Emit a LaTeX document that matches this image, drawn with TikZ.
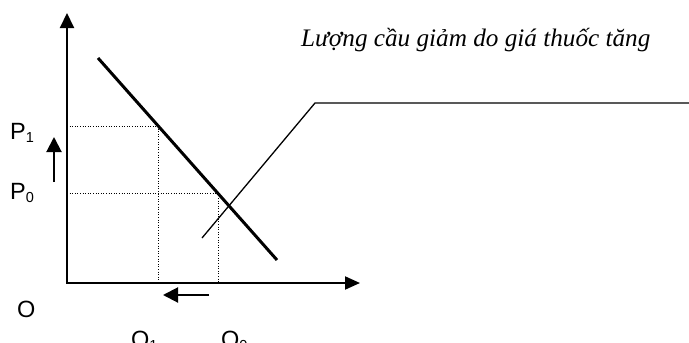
\documentclass[tikz,border=0pt]{standalone}
\usepackage{fontspec}
\setmainfont{Liberation Serif}
\newfontfamily\labelfont{Liberation Sans}
\usetikzlibrary{arrows.meta, calc}
\newcommand{\lowidx}[1]{{\fontsize{14.5}{14.5}\selectfont\raisebox{-3pt}{#1}}}

\begin{document}
\begin{tikzpicture}[x=1pt, y=-1pt,
    axis/.style={line width=2pt, {Triangle[length=15pt, width=14pt]}-{Triangle[length=15pt, width=13pt]}},
    shiftarrow/.style={line width=2pt, -{Triangle[length=15pt, width=15pt]}},
    guide/.style={line width=1pt, dash pattern=on 1pt off 1.6pt},
    lbl/.style={font=\labelfont\fontsize{23.5}{23.5}\selectfont, inner sep=0pt, anchor=base west}]
    \useasboundingbox (0,0) rectangle (689,343);

    % Axes
    \coordinate (O) at (67,283);
    \coordinate (ytop) at (67,13);
    \coordinate (xend) at (360,283);
    \draw[axis] (ytop) -- (O) -- (xend);

    % Demand curve
    \coordinate (D1) at (98,58);
    \coordinate (D2) at (277,260);
    \draw[line width=3pt] (D1) -- (D2);

    % Kinked line
    \coordinate (S1) at (202,238);
    \coordinate (S2) at (315,103);
    \coordinate (S3) at (689,103);
    \draw[line width=1.3pt] (S1) -- (S2) -- (S3);

    % Price levels and quantities
    \coordinate (P1) at (67,126);
    \coordinate (P0) at (67,193);
    \coordinate (E1) at (158,126);
    \coordinate (E0) at (218,193);
    \draw[guide] (P1) -- (E1) -- (E1 |- O);
    \draw[guide] (P0) -- (E0) -- (E0 |- O);

    % Shift arrows
    \coordinate (up0) at (54,182);
    \coordinate (up1) at (54,137);
    \draw[shiftarrow] (up0) -- (up1);
    \coordinate (left0) at (209,295);
    \coordinate (left1) at (163,295);
    \draw[shiftarrow] (left0) -- (left1);

    % Labels
    \node[lbl] (p1) at (10,139.5) {P\lowidx{1}};
    \node[lbl] (p0) at (10,199) {P\lowidx{0}};
    \node[lbl] (o) at (17,317) {O};
    \node[lbl] (q1) at (131,347) {Q\lowidx{1}};
    \node[lbl] (q0) at (221,347) {Q\lowidx{0}};
    \node[font=\itshape\fontsize{25.2}{26}\selectfont, inner sep=0pt, anchor=base west] (note) at (301,46) {Lượng cầu giảm do giá thuốc tăng};
\end{tikzpicture}
\end{document}
